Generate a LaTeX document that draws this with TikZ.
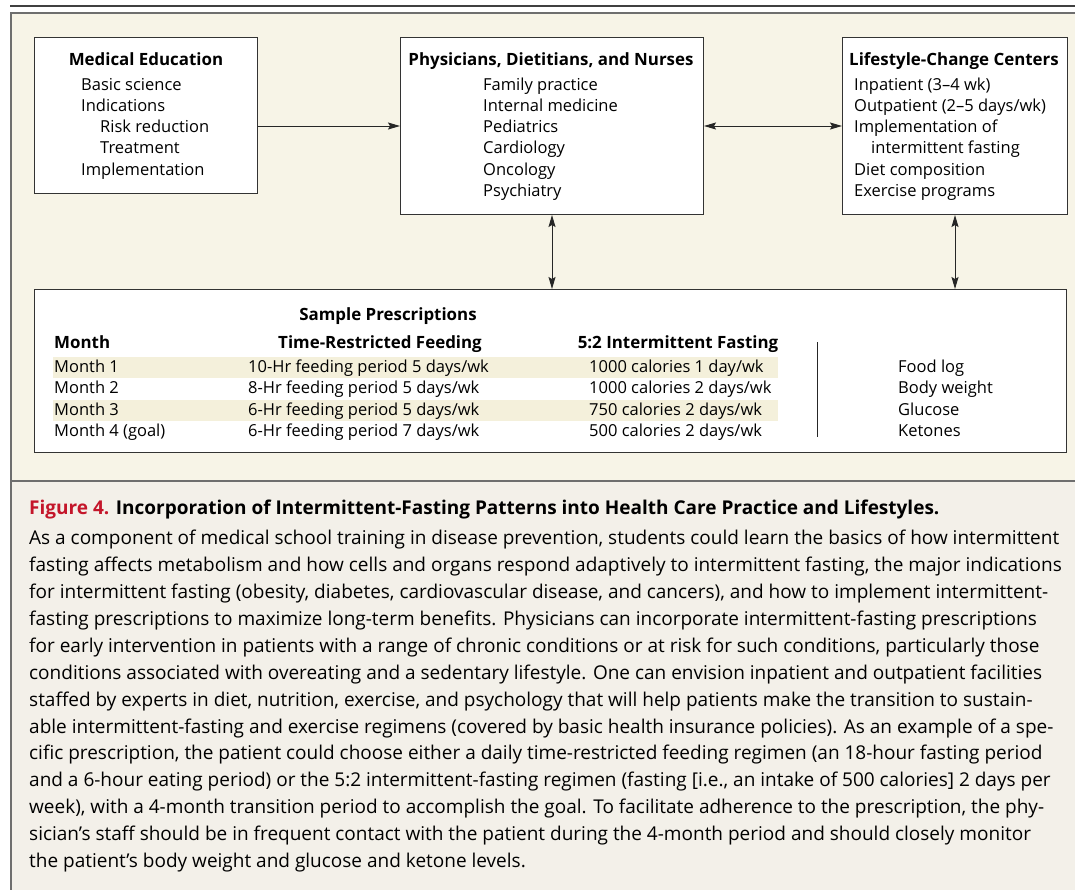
\documentclass[tikz,border=0pt]{standalone}
\usepackage{fontspec}
\setmainfont{Open Sans}
\usetikzlibrary{arrows.meta}
\definecolor{panel}{RGB}{247,244,231}
\definecolor{capbg}{RGB}{243,240,233}
\definecolor{band}{RGB}{244,240,219}
\definecolor{figred}{RGB}{196,22,42}
\definecolor{framegray}{RGB}{110,110,110}

\tikzset{
  box/.style={draw=black!80, line width=1pt, fill=white, inner sep=0pt, anchor=north west},
  head/.style={font=\fontsize{16.9}{21.3}\selectfont\bfseries, inner sep=0pt, anchor=base},
  items/.style={font=\fontsize{16.5}{21.3}\selectfont, inner sep=0pt, align=left, anchor=base west},
  cell/.style={font=\fontsize{16.5}{21.3}\selectfont, inner sep=0pt, anchor=base west},
  tip/.tip={Stealth[length=12pt,width=7pt,inset=2pt]},
  link/.style={line width=1pt, black!85, -tip},
  dlink/.style={line width=1pt, black!85, tip-tip}
}

\begin{document}
\begin{tikzpicture}[x=1pt,y=-1pt]
  \useasboundingbox (0,0) rectangle (1075,889);
  \begin{scope}                           % frame and panels
    \clip (0,0) rectangle (1075,889);
    \draw[line width=1.5pt, black!75] (10,6) -- (1090,6);
    \filldraw[fill=panel, draw=framegray, line width=1.5pt] (11,13) rectangle (1090,481);
    \filldraw[fill=capbg, draw=framegray, line width=1.5pt] (11,481) rectangle (1090,900);
  \end{scope}

  % boxes
  \node[box, minimum width=223, minimum height=156] (edu) at (34,37) {};
  \node[box, minimum width=303, minimum height=177] (phys) at (400,37) {};
  \node[box, minimum width=225, minimum height=177] (life) at (842,37) {};
  \node[box, minimum width=1032, minimum height=163] (presc) at (34,289) {};

  % box texts (base of a list = its last line)
  \node[head] (edut) at (146,65) {Medical Education};
  \node[items] (edul) at (81,175.2) {Basic science\\Indications\\\hspace*{19pt}Risk reduction\\\hspace*{19pt}Treatment\\Implementation};
  \node[head] (physt) at (551,65) {Physicians, Dietitians, and Nurses};
  \node[items] (physl) at (483,196.5) {Family practice\\Internal medicine\\Pediatrics\\Cardiology\\Oncology\\Psychiatry};
  \node[head] (lifet) at (954,65) {Lifestyle-Change Centers};
  \node[items] (lifel) at (854,196.5) {Inpatient (3–4 wk)\\Outpatient (2–5 days/wk)\\Implementation of\\\hspace*{17pt}intermittent fasting\\Diet composition\\Exercise programs};

  % connectors
  \draw[link] (edu.east |- phys.west) -- (phys.west);
  \draw[dlink] (phys.east) -- (life.west);
  \draw[dlink] (phys.south) -- (phys.south |- presc.north);
  \draw[dlink] (life.south) -- (life.south |- presc.north);

  % prescriptions table
  \fill[band] (53,357) rectangle (778,378);
  \fill[band] (53,400) rectangle (778,421);
  \node[head] (presct) at (388,320) {Sample Prescriptions};
  \node[head, anchor=base west] (monh) at (54,348) {Month};
  \node[head] (trfh) at (380,348) {Time-Restricted Feeding};
  \node[head] (ifh) at (678,348) {5:2 Intermittent Fasting};

  \node[cell] (m1) at (54,372) {Month 1};
  \node[cell] (m2) at (54,393) {Month 2};
  \node[cell] (m3) at (54,415) {Month 3};
  \node[cell] (m4) at (54,436) {Month 4 (goal)};
  \node[cell] (t1) at (248,372) {10-Hr feeding period 5 days/wk};
  \node[cell] (t2) at (248,393) {8-Hr feeding period 5 days/wk};
  \node[cell] (t3) at (248,415) {6-Hr feeding period 5 days/wk};
  \node[cell] (t4) at (248,436) {6-Hr feeding period 7 days/wk};
  \node[cell] (f1) at (589,372) {1000 calories 1 day/wk};
  \node[cell] (f2) at (589,393) {1000 calories 2 days/wk};
  \node[cell] (f3) at (589,415) {750 calories 2 days/wk};
  \node[cell] (f4) at (589,436) {500 calories 2 days/wk};

  \coordinate (divtop) at (817,342);
  \coordinate (divbot) at (817,437);
  \draw[line width=1pt, black!85] (divtop) -- (divbot);

  \node[cell] (k1) at (898,372) {Food log};
  \node[cell] (k2) at (898,393) {Body weight};
  \node[cell] (k3) at (898,415) {Glucose};
  \node[cell] (k4) at (898,436) {Ketones};

  % caption
  \node[inner sep=0pt, anchor=base west, font=\fontsize{19}{26.9}\selectfont\bfseries] (capt) at (29,514)
    {\textcolor{figred}{Figure 4.} Incorporation of Intermittent-Fasting Patterns into Health Care Practice and Lifestyles.};
  \node[inner sep=0pt, anchor=base west, align=left, font=\fontsize{19}{26.9}\selectfont] (capb) at (29,867.5)
    {As a component of medical school training in disease prevention, students could learn the basics of how intermittent\\
fasting affects metabolism and how cells and organs respond adaptively to intermittent fasting, the major indications\\
for intermittent fasting (obesity, diabetes, cardiovascular disease, and cancers), and how to implement intermittent-\\
fasting prescriptions to maximize long-term benefits. Physicians can incorporate intermittent-fasting prescriptions\\
for early intervention in patients with a range of chronic conditions or at risk for such conditions, particularly those\\
conditions associated with overeating and a sedentary lifestyle. One can envision inpatient and outpatient facilities\\
staffed by experts in diet, nutrition, exercise, and psychology that will help patients make the transition to sustain-\\
able intermittent-fasting and exercise regimens (covered by basic health insurance policies). As an example of a spe-\\
cific prescription, the patient could choose either a daily time-restricted feeding regimen (an 18-hour fasting period\\
and a 6-hour eating period) or the 5:2 intermittent-fasting regimen (fasting [i.e., an intake of 500 calories] 2 days per\\
week), with a 4-month transition period to accomplish the goal. To facilitate adherence to the prescription, the phy-\\
sician’s staff should be in frequent contact with the patient during the 4-month period and should closely monitor\\
the patient’s body weight and glucose and ketone levels.};
\end{tikzpicture}
\end{document}
